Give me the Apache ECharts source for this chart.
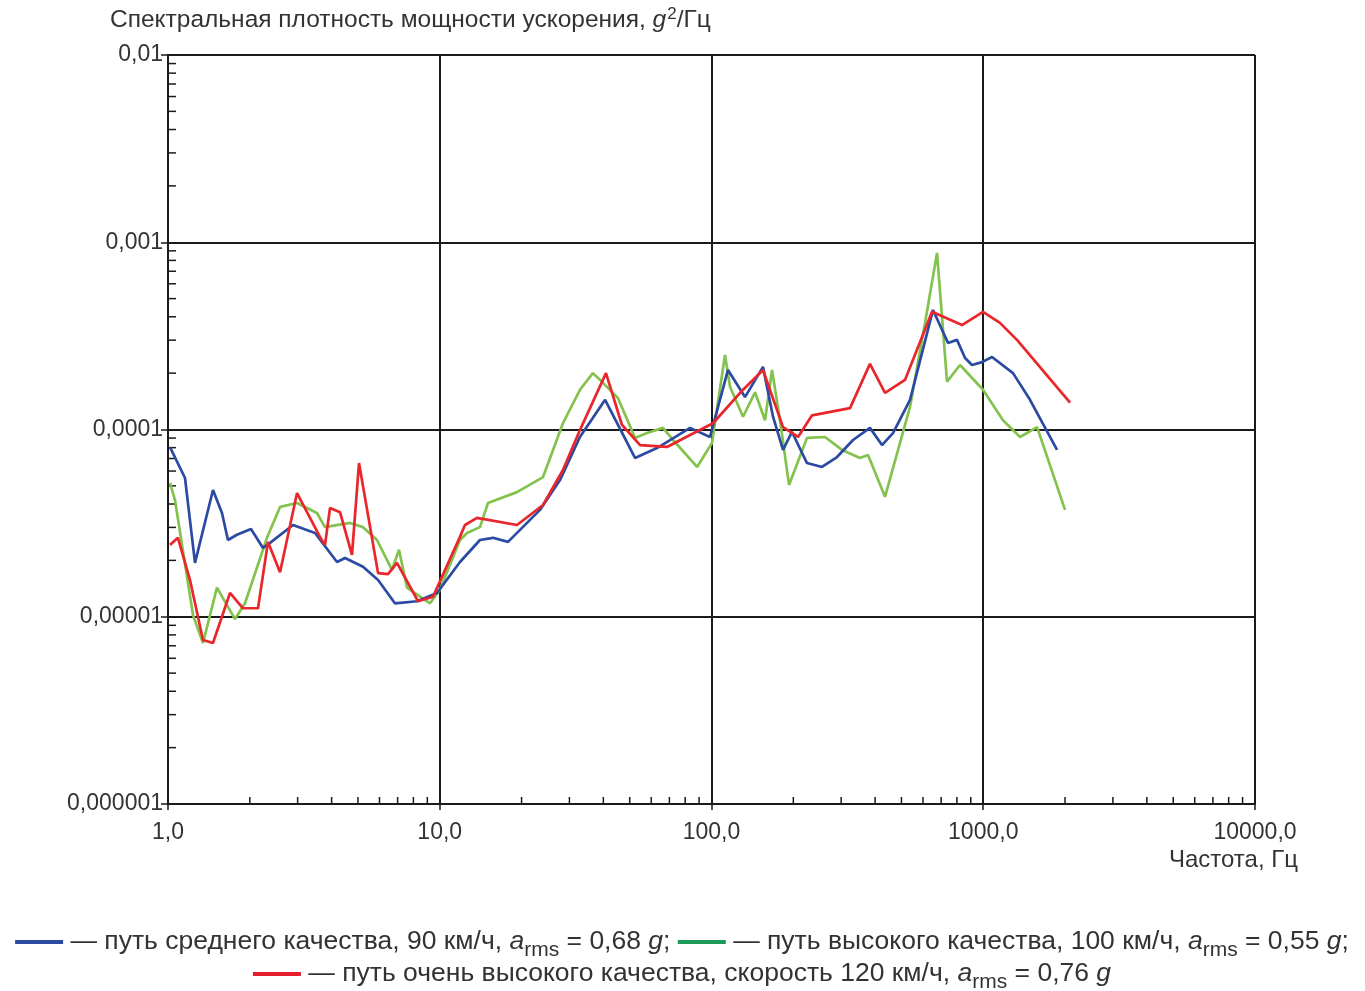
<!DOCTYPE html>
<html>
<head>
<meta charset="utf-8">
<script src="https://cdn.jsdelivr.net/npm/echarts@6/dist/echarts.min.js"></script>
<style>
  html, body { margin: 0; padding: 0; background: #fff; }
  #chart { width: 1365px; height: 991px; }
</style>
</head>
<body>
<div id="chart"></div>
<script>
// axis tick labels
const freqTicks = ['1,0', '10,0', '100,0', '1000,0', '10000,0']
const psdTicks = ['0,000001', '0,00001', '0,0001', '0,001', '0,01']

// путь среднего качества, 90 км/ч
const blueFreq = [1.017, 1.155, 1.257, 1.464, 1.58, 1.662, 1.794, 2.02, 2.237, 2.374, 2.884, 3.475, 4.187, 4.48, 5.22, 5.93, 6.84, 8.25, 9.77,
  11.87, 14.06, 15.7, 17.83, 23.38, 27.7, 32.8, 40.6, 52.3, 63.0, 83.4, 98.7, 115, 132.8, 154.7, 168.4, 183.3, 197.8, 224.6, 255, 289.7,
  331.7, 382.9, 424, 465.5, 537.7, 653.3, 741.9, 800.6, 857, 909, 989.5, 1077, 1287, 1486, 1869]
const bluePsd = [8.06e-5, 5.51e-5, 1.94e-5, 4.75e-5, 3.58e-5, 2.57e-5, 2.74e-5, 2.94e-5, 2.33e-5, 2.48e-5, 3.09e-5, 2.8e-5, 1.96e-5, 2.06e-5, 1.85e-5, 1.57e-5, 1.18e-5, 1.21e-5, 1.34e-5,
  1.96e-5, 2.57e-5, 2.64e-5, 2.51e-5, 3.72e-5, 5.37e-5, 9.12e-5, 1.44e-4, 7.05e-5, 7.96e-5, 1.02e-4, 9.12e-5, 2.08e-4, 1.49e-4, 2.16e-4, 1.17e-4, 7.78e-5, 9.7e-5, 6.62e-5, 6.31e-5, 7.13e-5,
  8.79e-5, 1.02e-4, 8.26e-5, 9.57e-5, 1.44e-4, 4.35e-4, 2.9e-4, 3.01e-4, 2.41e-4, 2.21e-4, 2.29e-4, 2.44e-4, 2.0e-4, 1.44e-4, 7.78e-5]

// путь высокого качества, 100 км/ч
const greenFreq = [1.017, 1.061, 1.236, 1.345, 1.514, 1.764, 1.92, 2.313, 2.584, 2.984, 3.534, 3.782, 4.675, 5.22, 5.875, 6.67, 7.08, 7.58, 8.6, 9.21,
  10.0, 11.87, 12.6, 14.06, 15.05, 19.24, 23.99, 28.4, 32.8, 36.6, 38.9, 45.3, 52.3, 57.9, 66.3, 72.2, 88.5, 100.4, 112.1, 117, 130.6, 144.6,
  157.4, 167, 178.7, 192.9, 224.6, 261.7, 302.2, 352, 376.7, 435, 537.7, 610.6, 675.9, 735.7, 821.4, 998, 1182, 1366, 1578, 2000]
const greenPsd = [5.18e-5, 4.2e-5, 1.02e-5, 7.24e-6, 1.43e-5, 9.72e-6, 1.18e-5, 2.64e-5, 3.86e-5, 4.05e-5, 3.58e-5, 3.01e-5, 3.17e-5, 3.01e-5, 2.57e-5, 1.78e-5, 2.28e-5, 1.43e-5, 1.26e-5, 1.18e-5,
  1.39e-5, 2.57e-5, 2.8e-5, 3.01e-5, 4.05e-5, 4.63e-5, 5.57e-5, 1.08e-4, 1.63e-4, 2.0e-4, 1.84e-4, 1.47e-4, 9.02e-5, 9.57e-5, 1.02e-4, 8.79e-5, 6.31e-5, 8.47e-5, 2.5e-4, 1.69e-4, 1.17e-4, 1.58e-4,
  1.12e-4, 2.08e-4, 1.12e-4, 5.06e-5, 9.02e-5, 9.12e-5, 7.78e-5, 7.05e-5, 7.31e-5, 4.37e-5, 1.32e-4, 3.71e-4, 8.77e-4, 1.8e-4, 2.21e-4, 1.63e-4, 1.12e-4, 9.12e-5, 1.03e-4, 3.72e-5]

// путь очень высокого качества, 120 км/ч
const redFreq = [1.017, 1.088, 1.205, 1.345, 1.464, 1.691, 1.888, 2.144, 2.333, 2.584, 2.984, 3.625, 3.782, 3.946, 4.295, 4.754, 5.045, 5.93, 6.45, 6.96, 8.32, 9.45,
  11.87, 12.38, 13.71, 19.24, 23.99, 28.4, 32.8, 40.9, 46.8, 54.6, 68.6, 83.4, 101.3, 127.4, 154.7, 183.3, 208.2, 234.4, 323.4, 382.9, 435, 515.2,
  647.8, 835.3, 998, 1152, 1331, 2086]
const redPsd = [2.42e-5, 2.64e-5, 1.57e-5, 7.52e-6, 7.24e-6, 1.34e-5, 1.11e-5, 1.11e-5, 2.51e-5, 1.73e-5, 4.58e-5, 2.67e-5, 2.42e-5, 3.81e-5, 3.62e-5, 2.14e-5, 6.62e-5, 1.71e-5, 1.69e-5, 1.94e-5, 1.21e-5, 1.28e-5,
  2.67e-5, 3.09e-5, 3.37e-5, 3.09e-5, 3.95e-5, 6.08e-5, 9.93e-5, 2.0e-4, 1.06e-4, 8.26e-5, 8.07e-5, 9.35e-5, 1.08e-4, 1.57e-4, 2.08e-4, 1.03e-4, 9.12e-5, 1.19e-4, 1.3e-4, 2.24e-4, 1.57e-4, 1.84e-4,
  4.25e-4, 3.61e-4, 4.25e-4, 3.71e-4, 3.01e-4, 1.39e-4]

const font = '"Liberation Sans Narrow", "Liberation Sans", Arial, sans-serif'
const textColor = '#333'
const colors = ['#2b4ba3', '#84c24e', '#e8262b']

function zip(a, b) {
  return a.map((v, i) => [v, b[i]])
}

// minor ticks 2..9 within each decade
function minorValues(lo, hi) {
  const out = []
  for (let e = lo; e < hi; e++) {
    for (let m = 2; m <= 9; m++) out.push(m * Math.pow(10, e))
  }
  return out
}
const xMinor = minorValues(0, 4)
const yMinor = minorValues(-6, -2)

const chart = echarts.init(document.getElementById('chart'))

const option = {
  backgroundColor: '#fff',
  animation: false,
  textStyle: { fontFamily: font },
  grid: { left: 168, right: 110, top: 55, bottom: 187 },
  xAxis: {
    type: 'log',
    logBase: 10,
    min: 1,
    max: 10000,
    axisLine: { lineStyle: { color: '#1a1a1a', width: 2 } },
    axisTick: { show: true, length: 6, inside: false, lineStyle: { color: '#1a1a1a', width: 1.5 } },
    axisLabel: {
      color: textColor,
      fontSize: 23,
      fontFamily: font,
      margin: 17,
      formatter: v => freqTicks[Math.round(Math.log10(v))]
    },
    splitLine: { show: true, lineStyle: { color: '#1a1a1a', width: 2 } }
  },
  yAxis: {
    type: 'log',
    logBase: 10,
    min: 1e-6,
    max: 0.01,
    axisLine: { lineStyle: { color: '#1a1a1a', width: 2 } },
    axisTick: { show: true, length: 7, inside: false, lineStyle: { color: '#1a1a1a', width: 1.5 } },
    axisLabel: {
      color: textColor,
      fontSize: 23,
      fontFamily: font,
      margin: 5,
      formatter: v => psdTicks[Math.round(Math.log10(v)) + 6]
    },
    splitLine: { show: true, lineStyle: { color: '#1a1a1a', width: 2 } }
  },
  series: [
    {
      type: 'line', data: zip(blueFreq, bluePsd), showSymbol: false, symbol: 'none',
      lineStyle: { color: colors[0], width: 2.7 }, z: 3
    },
    {
      type: 'line', data: zip(greenFreq, greenPsd), showSymbol: false, symbol: 'none',
      lineStyle: { color: colors[1], width: 2.7 }, z: 2
    },
    {
      type: 'line', data: zip(redFreq, redPsd), showSymbol: false, symbol: 'none',
      lineStyle: { color: colors[2], width: 2.7 }, z: 4
    },
    {
      // minor ticks on the frequency axis, pointing inward
      type: 'custom',
      data: xMinor,
      clip: false,
      silent: true,
      renderItem: (params, api) => {
        const p = api.coord([api.value(0), 1e-6])
        return {
          type: 'line',
          shape: { x1: p[0], y1: p[1], x2: p[0], y2: p[1] - 7 },
          style: { stroke: '#1a1a1a', lineWidth: 1.5 }
        }
      },
      encode: { x: 0 }
    },
    {
      // minor ticks on the psd axis, pointing inward
      type: 'custom',
      data: yMinor,
      clip: false,
      silent: true,
      renderItem: (params, api) => {
        const p = api.coord([1, api.value(0)])
        return {
          type: 'line',
          shape: { x1: p[0], y1: p[1], x2: p[0] + 8, y2: p[1] },
          style: { stroke: '#1a1a1a', lineWidth: 1.5 }
        }
      },
      encode: { y: 0 }
    }
  ],
  graphic: [
    {
      type: 'text',
      left: 110,
      top: 6,
      style: {
        text: '{t|Спектральная плотность мощности ускорения, }{i|g}{sup|2}{t|/Гц}',
        rich: {
          t: { fontSize: 24.5, fontFamily: font, fill: textColor, verticalAlign: 'bottom' },
          i: { fontSize: 24.5, fontFamily: font, fill: textColor, fontStyle: 'italic', verticalAlign: 'bottom' },
          sup: { fontSize: 17, fontFamily: font, fill: textColor, padding: [0, 0, 10, 1], verticalAlign: 'bottom' }
        }
      }
    },
    {
      type: 'text',
      right: 67,
      top: 848,
      style: { text: 'Частота, Гц', fontSize: 24, fontFamily: font, fill: textColor }
    },
    {
      type: 'text',
      x: 682,
      y: 942,
      style: {
        align: 'center',
        verticalAlign: 'middle',
        text: '{sb| }{t| — путь среднего качества, 90 км/ч, }{i|a}{s|rms}{t| = 0,68 }{i|g}{t|; }{sg| }{t| — путь высокого качества, 100 км/ч, }{i|a}{s|rms}{t| = 0,55 }{i|g}{t|;}',
        rich: {
          t: { fontSize: 26.5, fontFamily: font, fill: textColor },
          i: { fontSize: 26.5, fontFamily: font, fill: textColor, fontStyle: 'italic' },
          s: { fontSize: 21, fontFamily: font, fill: textColor, padding: [17, 0, 0, 0] },
          sb: { width: 48, height: 4, backgroundColor: '#2a4c9f' },
          sg: { width: 48, height: 4, backgroundColor: '#1c9a58' }
        }
      }
    },
    {
      type: 'text',
      x: 682,
      y: 974,
      style: {
        align: 'center',
        verticalAlign: 'middle',
        text: '{sr| }{t| — путь очень высокого качества, скорость 120 км/ч, }{i|a}{s|rms}{t| = 0,76 }{i|g}',
        rich: {
          t: { fontSize: 26.5, fontFamily: font, fill: textColor },
          i: { fontSize: 26.5, fontFamily: font, fill: textColor, fontStyle: 'italic' },
          s: { fontSize: 21, fontFamily: font, fill: textColor, padding: [17, 0, 0, 0] },
          sr: { width: 48, height: 4, backgroundColor: '#e5202b' }
        }
      }
    }
  ]
}

chart.setOption(option)
</script>
</body>
</html>
